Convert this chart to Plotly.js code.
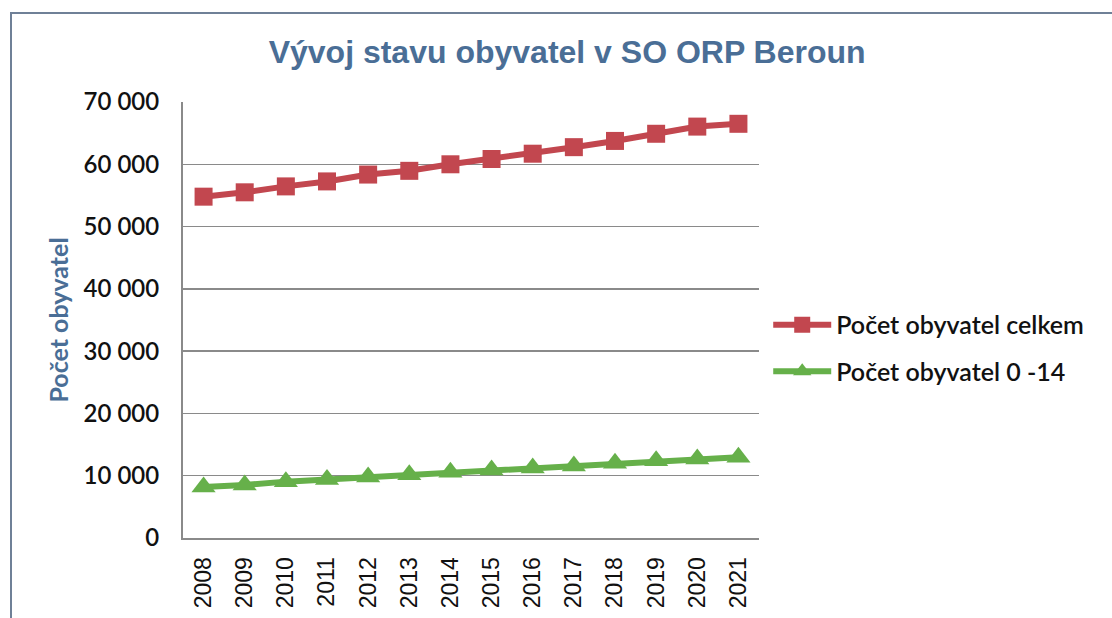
<!DOCTYPE html>
<html>
<head>
<meta charset="utf-8">
<script src="https://cdn.plot.ly/plotly-3.0.1.min.js"></script>
<style>
  html, body { margin: 0; padding: 0; background: #fff; }
  #wrap { position: relative; width: 1112px; height: 618px; overflow: hidden; }
  #frame { position: absolute; left: 10px; top: 12px; width: 1110px; height: 620px;
           border-top: 2px solid #6f8097; border-left: 2px solid #6f8097; pointer-events: none; }
  #chart { position: absolute; left: 0; top: 0; width: 1112px; height: 618px; }
</style>
</head>
<body>
<div id="wrap">
  <div id="chart"></div>
  <div id="frame"></div>
</div>
<script>
const years = ['2008','2009','2010','2011','2012','2013','2014','2015','2016','2017','2018','2019','2020','2021'];
const celkem = [54800, 55500, 56450, 57250, 58350, 58950, 60000, 60850, 61700, 62750, 63750, 64900, 66050, 66500];
const deti = [8200, 8500, 9050, 9400, 9800, 10150, 10550, 10900, 11250, 11550, 12000, 12400, 12700, 12950];
const seriesNames = ['Počet obyvatel celkem', 'Počet obyvatel 0 -14'];
const titleText = 'Vývoj stavu obyvatel v SO ORP Beroun';
const yTitle = 'Počet obyvatel';

const traces = [
  {
    x: years, y: celkem, name: seriesNames[0], type: 'scatter', mode: 'lines+markers',
    legendgroup: 'a',
    line: {color: '#c2474f', width: 6},
    marker: {symbol: 'square', size: 18, color: '#c2474f'}
  },
  {
    x: years, y: deti, name: seriesNames[1], type: 'scatter', mode: 'lines+markers',
    legendgroup: 'b',
    line: {color: '#66b04a', width: 6},
    marker: {symbol: 'triangle-up', size: 21, color: '#66b04a'}
  }
];

const layout = {
  width: 1112, height: 618,
  paper_bgcolor: '#ffffff', plot_bgcolor: '#ffffff',
  separators: ', ',
  margin: {l: 183, r: 353, t: 102, b: 80},
  title: {
    text: '<b>' + titleText + '</b>',
    x: 0.51, xref: 'container', xanchor: 'center',
    y: 0.916, yref: 'container', yanchor: 'middle',
    font: {family: 'Liberation Sans, Arial, sans-serif', size: 32, color: '#4a6e96'}
  },
  xaxis: {
    type: 'category',
    range: [-0.5, 13.5],
    tickangle: -90,
    tickfont: {family: 'Liberation Sans, Arial, sans-serif', size: 23, color: '#111'},
    ticklabelstandoff: 8,
    showgrid: false,
    showline: true, linecolor: '#8a8a8a', linewidth: 2,
    ticks: '',
    fixedrange: true
  },
  yaxis: {
    range: [0, 70000], dtick: 10000, tickformat: ',d',
    tickfont: {family: 'Lato, Open Sans, sans-serif', size: 24, weight: 600, color: '#111'},
    ticklabelstandoff: 17,
    showgrid: true, gridcolor: '#8a8a8a', gridwidth: 1.5,
    showline: true, linecolor: '#8a8a8a', linewidth: 2,
    zeroline: false,
    ticks: '',
    title: {text: '<b>' + yTitle + '</b>', standoff: 8,
            font: {family: 'Lato, Open Sans, sans-serif', size: 25, color: '#4a6e96'}},
    fixedrange: true
  },
  showlegend: true,
  legend: {
    x: 1.016, xanchor: 'left', y: 0.436, yanchor: 'middle',
    traceorder: 'grouped', tracegroupgap: 11,
    itemwidth: 58,
    font: {family: 'Lato, Open Sans, sans-serif', size: 25, weight: 600, color: '#111'},
    bgcolor: 'rgba(0,0,0,0)'
  }
};

Plotly.newPlot('chart', traces, layout, {displayModeBar: false, staticPlot: true});
</script>
</body>
</html>
